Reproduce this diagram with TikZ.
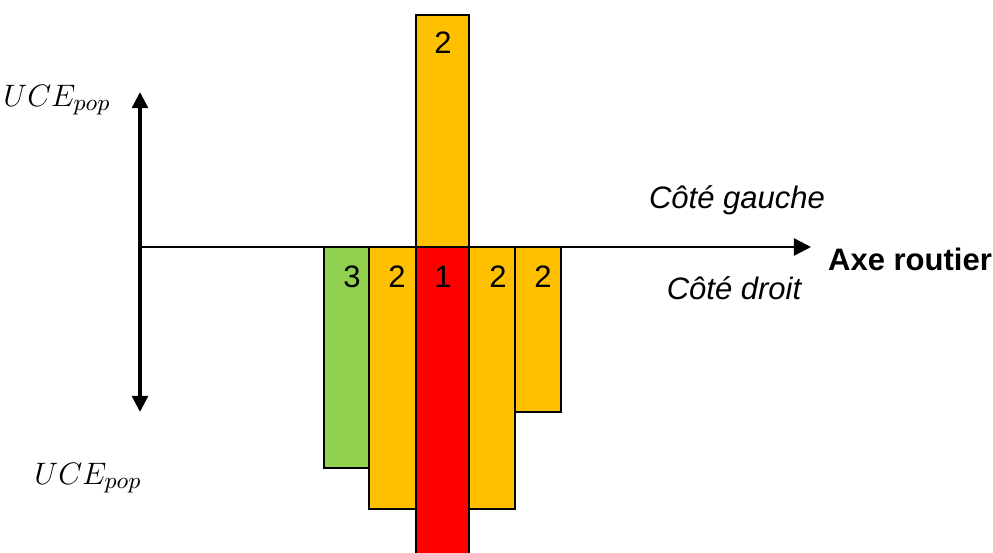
\documentclass[tikz,border=0pt]{standalone}
\usepackage{fontspec}
\setmainfont{Liberation Sans}
\usepackage{tikz}
\usetikzlibrary{arrows.meta, positioning}

\definecolor{barorange}{HTML}{FFC000}
\definecolor{barred}{HTML}{FF0000}
\definecolor{bargreen}{HTML}{92D050}

\begin{document}
\begin{tikzpicture}[
  x=0.0136cm, y=-0.0136cm,
  font=\fontsize{12}{14}\selectfont,
  bar/.style={draw=black, line width=0.45pt},
  num label/.style={inner sep=0pt},
  side label/.style={font=\fontsize{12}{14}\selectfont\itshape},
  axis label/.style={font=\fontsize{12}{14}\selectfont\bfseries},
  uce label/.style={font=\fontsize{13}{15}\selectfont}
]
  \useasboundingbox (0,0) rectangle (993,552);

  % bars
  \draw[bar, fill=bargreen]  (324,247) rectangle (369,468);
  \draw[bar, fill=barorange] (369,247) rectangle (416,509);
  \draw[bar, fill=barorange] (469,247) rectangle (515,509);
  \draw[bar, fill=barorange] (515,247) rectangle (561,412);
  \draw[bar, fill=barred]    (416,247) rectangle (469,560);
  \draw[bar, fill=barorange] (416,15) rectangle (469,247);

  \node[num label] (n3) at (352,277) {3};
  \node[num label] (n2a) at (397,277) {2};
  \node[num label] (n1) at (443,277) {1};
  \node[num label] (n2b) at (498,277) {2};
  \node[num label] (n2c) at (543,277) {2};
  \node[num label] (n2t) at (443,43) {2};

  % axes
  \coordinate (top) at (140,92);
  \coordinate (bottom) at (140,412);
  \coordinate (origin) at (140,247);
  \coordinate (road end) at (811,247);
  \draw[{Triangle[length=6.2pt, width=6pt]}-{Triangle[length=6.2pt, width=6pt]}, line width=1.5pt] (top) -- (bottom);
  \draw[-{Triangle[length=6.6pt, width=6.6pt]}, line width=0.9pt] (origin) -- (road end);

  \node[axis label] (road) at (910,259) {Axe routier};
  \node[side label] (left side) at (737,200) {Côté gauche};
  \node[side label] (right side) at (734,288) {Côté droit};

  \node[uce label] (uce top) at (57,100) {$UCE_{pop}$};
  \node[uce label] (uce bottom) at (88,478) {$UCE_{pop}$};
\end{tikzpicture}
\end{document}
